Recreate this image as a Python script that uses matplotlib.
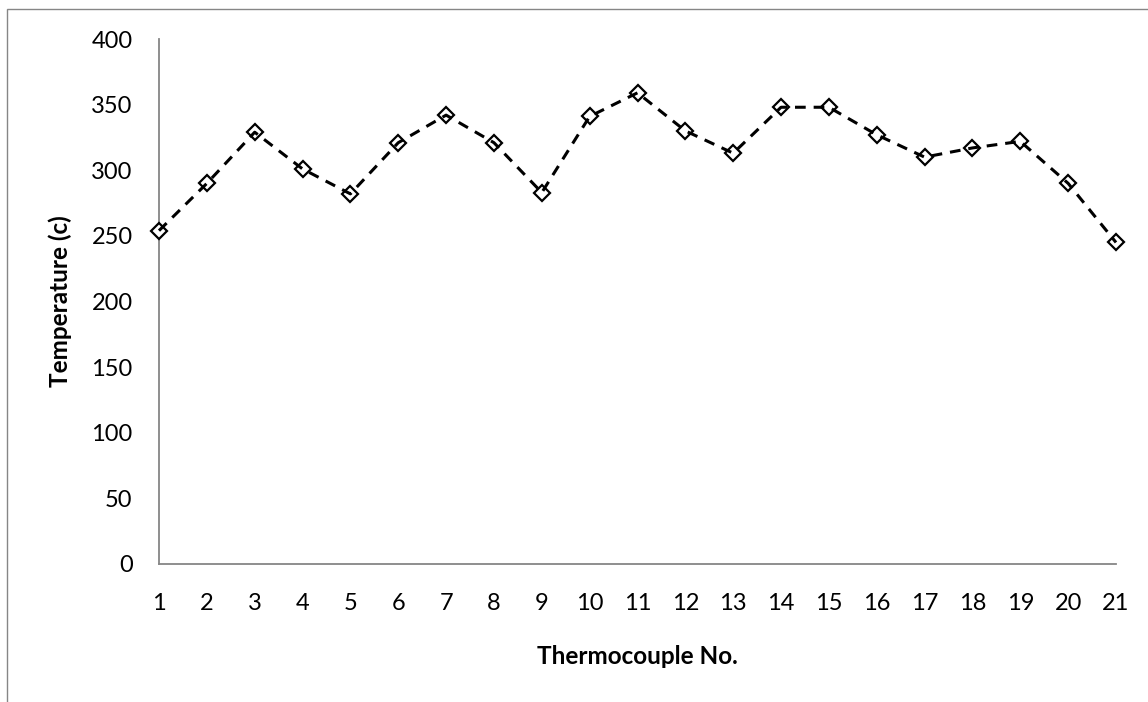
import matplotlib
matplotlib.use("Agg")
import matplotlib.pyplot as plt
from matplotlib.patches import Rectangle

thermocouple = list(range(1, 22))
temperature = [254, 290, 329, 301, 282, 321, 342, 321, 283, 341, 359,
               330, 313, 348, 348, 327, 310, 317, 322, 290, 245]
y_ticks = [0, 50, 100, 150, 200, 250, 300, 350, 400]

plt.rcParams['font.family'] = ['Lato', 'DejaVu Sans']

fig = plt.figure(figsize=(11.48, 7.02), dpi=100)
ax = fig.add_axes([159/1148, 1-564/702, (1116-159)/1148, (564-39)/702])

ax.plot(thermocouple, temperature, linestyle='none', marker='D', markersize=8.5,
        markerfacecolor='white', markeredgecolor='black', markeredgewidth=1.6,
        zorder=3, clip_on=False)
ax.plot(thermocouple, temperature, color='black', linewidth=2.2,
        linestyle=(0, (3.5, 2.6)), zorder=4, clip_on=False)

ax.set_xlim(1, 21)
ax.set_ylim(0, 400)
ax.set_xticks(thermocouple)
ax.set_xticklabels([str(t) for t in thermocouple])
ax.set_yticks(y_ticks)
ax.tick_params(axis='both', length=0, labelsize=17, colors='black')
ax.tick_params(axis='x', pad=21)
ax.tick_params(axis='y', pad=19)

for s in ['top', 'right']:
    ax.spines[s].set_visible(False)
for s in ['left', 'bottom']:
    ax.spines[s].set_color('#868686')
    ax.spines[s].set_linewidth(1.3)

ax.set_xlabel('Thermocouple No.', fontsize=17.5, fontweight='bold', labelpad=22)
ax.set_ylabel('Temperature (c)', fontsize=17.5, fontweight='bold', labelpad=14)

fig.patches.append(Rectangle((7/1148, -0.1), 1.2, 1 - 9/702 + 0.1,
                             transform=fig.transFigure, fill=False,
                             edgecolor='#868686', linewidth=1.0))

fig.savefig('out.png', dpi=100)
